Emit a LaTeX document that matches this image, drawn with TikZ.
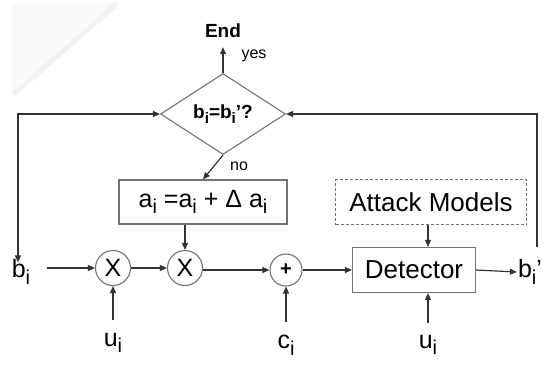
\documentclass[tikz,border=0pt]{standalone}
\usepackage{fontspec}
\usepackage{graphicx}
\setmainfont{Liberation Sans}
\usetikzlibrary{arrows.meta,shapes.geometric}
\newcommand{\mysub}[1]{\raisebox{-0.27em}{\scalebox{0.8}{#1}}}
\begin{document}
\begin{tikzpicture}[x=1pt,y=-1pt,
  line/.style={draw=black!80, line width=1.2pt},
  arr/.style={line, -{Triangle[length=7pt,width=6pt]}},
  shapeline/.style={draw=black!55, line width=1.1pt},
  box/.style={shapeline, font=\fontsize{26}{30}\selectfont, inner sep=0pt},
  circ/.style={circle, shapeline, minimum size=35pt, inner sep=0pt, font=\fontsize{25}{28}\selectfont},
  lbl/.style={font=\fontsize{25}{28}\selectfont, inner sep=1pt},
  small/.style={font=\fontsize{16}{18}\selectfont, inner sep=0pt},
  boldtxt/.style={font=\bfseries\fontsize{19}{22}\selectfont}]
\useasboundingbox (0,0) rectangle (551,365);
% faint page shading in the top-left corner
\fill[black!2] (12,3) -- (120,3) -- (12,97) -- cycle;
\draw[black!5, line width=5pt] (14,94) -- (117,4);

% nodes
\node[diamond, shapeline, minimum width=125pt, minimum height=81pt, inner sep=0pt, boldtxt] (dia) at (223,114) {b\mysub{i}=b\mysub{i}'?};
\node[boldtxt, inner sep=1pt] (end) at (223,31) {End};
\node[small] (yes) at (254,56) {yes};
\node[small] (no) at (239,166) {no};
\node[box, minimum width=168pt, minimum height=44pt, font=\fontsize{25}{28}\selectfont] (abox) at (203,202) {a\mysub{i} =a\mysub{i} + Δ a\mysub{i}};
\node[box, dashed, dash pattern=on 3pt off 2pt, minimum width=191pt, minimum height=45pt] (att) at (431,202) {Attack Models};
\node[box, minimum width=123pt, minimum height=45pt] (det) at (414,270) {Detector};
\node[circ] (x1) at (113,268) {X};
\node[circ] (x2) at (185,268) {X};
\node[circ, minimum size=32pt, font=\bfseries\fontsize{20}{24}\selectfont] (plus) at (286,270) {+};
\node[lbl] (bi) at (21,272) {b\mysub{i}};
\node[lbl] (u1) at (113,343) {u\mysub{i}};
\node[lbl] (ci) at (286,345) {c\mysub{i}};
\node[lbl] (u2) at (428,345) {u\mysub{i}};
\node[lbl] (bp) at (530,272) {b\mysub{i}'};

% free ends
\coordinate (bis) at (47,268);
\coordinate (u1t) at (113,320);
\coordinate (cit) at (286,322);
\coordinate (u2t) at (428,323);
\coordinate (rt) at (537,247);

% connectors
\draw[arr, shorten >=8pt] (dia.north) -- (end.south);
\draw[arr] (dia.south) -- (abox.north);
\draw[line, {Triangle[length=7pt,width=6pt]}-{Triangle[length=7pt,width=6pt]}] ([yshift=-4pt]bi.north -| 18,0) |- (dia.west);
\draw[arr] (bis) -- (x1.west);
\draw[arr] (x1) -- (x2);
\draw[arr] (x2 |- abox.south) -- (x2.north);
\draw[arr] (u1t) -- (x1.south);
\draw[arr] (x2.east |- plus) -- (plus.west);
\draw[arr] (cit) -- (plus.south);
\draw[arr] (plus) -- (det);
\draw[arr] (u2t |- att.south) -- (u2t |- det.north);
\draw[arr] (u2t) -- (u2t |- det.south);
\draw[arr] (det.east) -- (bp.west);
\draw[arr] (rt) |- (dia.east);
\end{tikzpicture}
\end{document}
